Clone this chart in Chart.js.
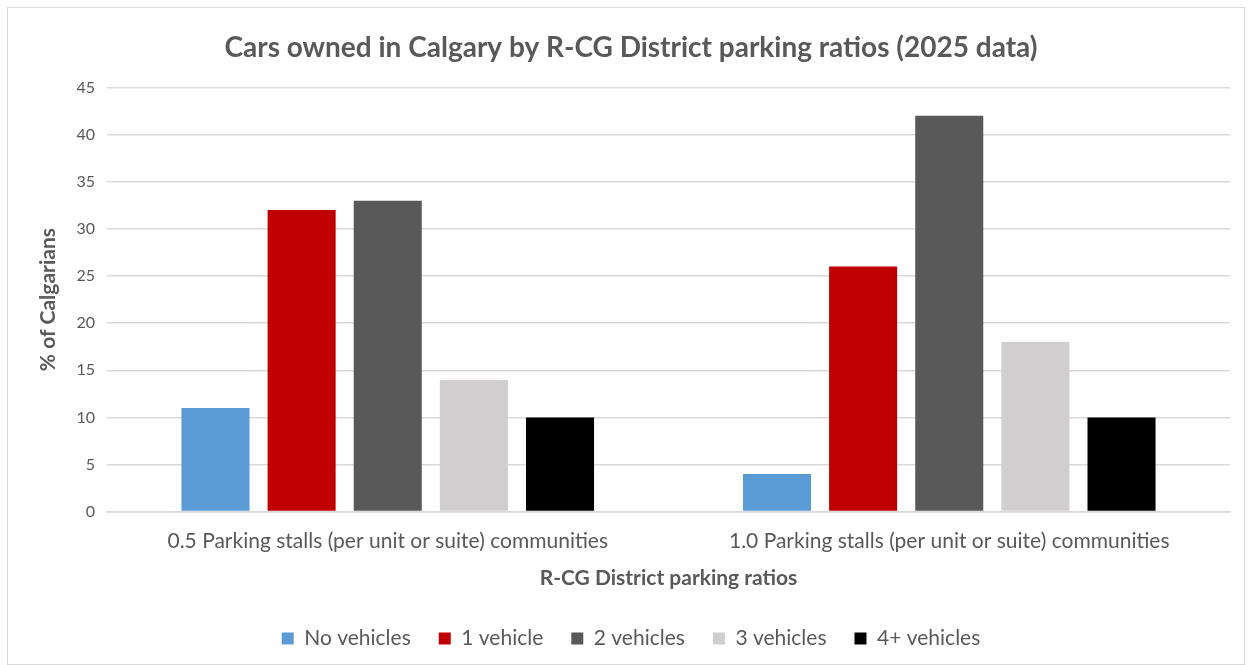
<!DOCTYPE html>
<html>
<head>
<meta charset="utf-8">
<script src="https://cdn.jsdelivr.net/npm/chart.js@4"></script>
<style>
  html, body { margin: 0; padding: 0; background: #ffffff; }
  #frame {
    position: absolute; left: 7px; top: 7px; width: 1236px; height: 656px;
    border: 1px solid #d9d9d9; background: #ffffff;
  }
  #chartBox { position: absolute; left: 0; top: 0; width: 1236px; height: 656px; }
</style>
</head>
<body>
<div id="frame"><div id="chartBox"><canvas id="carsChart"></canvas></div></div>
<script>
// Cars owned in Calgary by R-CG District parking ratios
const categories = [
    '0.5 Parking stalls (per unit or suite) communities',
    '1.0 Parking stalls (per unit or suite) communities'
];
const seriesNames = ['No vehicles', '1 vehicle', '2 vehicles', '3 vehicles', '4+ vehicles'];
const noVehicles = [11, 4];
const oneVehicle = [32, 26];
const twoVehicles = [33, 42];
const threeVehicles = [14, 18];
const fourPlusVehicles = [10, 10];
const seriesColors = ['#5b9bd5', '#c00000', '#595959', '#d0cece', '#000000'];

const textGray = '#595959';
const fontFamily = 'Lato, "Open Sans", sans-serif';

const seriesValues = [noVehicles, oneVehicle, twoVehicles, threeVehicles, fourPlusVehicles];

const ctx = document.getElementById('carsChart');
new Chart(ctx.getContext('2d'), {
    type: 'bar',
    data: {
        labels: categories,
        datasets: seriesNames.map((name, i) => ({
            label: name,
            data: seriesValues[i],
            backgroundColor: seriesColors[i],
            categoryPercentage: 0.767,
            barPercentage: 0.79
        }))
    },
    options: {
        responsive: true,
        maintainAspectRatio: false,
        animation: false,
        layout: { padding: { left: 24, right: 14, top: 10, bottom: 5 } },
        plugins: {
            title: {
                display: true,
                text: 'Cars owned in Calgary by R-CG District parking ratios (2025 data)',
                color: textGray,
                font: { family: fontFamily, size: 28, weight: 'bold' },
                padding: { top: 13, bottom: 23 }
            },
            legend: {
                position: 'bottom',
                labels: {
                    color: textGray,
                    font: { family: fontFamily, size: 21 },
                    boxWidth: 12,
                    boxHeight: 12,
                    padding: 28
                }
            },
            tooltip: { enabled: false }
        },
        scales: {
            y: {
                min: 0,
                max: 45,
                afterFit: (scale) => { scale.width = 75; },
                ticks: {
                    stepSize: 5,
                    color: textGray,
                    font: { family: fontFamily, size: 16 },
                    padding: 12
                },
                grid: { color: '#d9d9d9', lineWidth: 1.5, drawTicks: false },
                border: { display: false },
                title: {
                    display: true,
                    text: '% of Calgarians',
                    color: textGray,
                    font: { family: fontFamily, size: 21, weight: 'bold' }
                }
            },
            x: {
                afterFit: (scale) => { scale.height = scale.height - 13; },
                ticks: {
                    color: textGray,
                    font: { family: fontFamily, size: 21 },
                    padding: 17
                },
                grid: { display: false, drawTicks: false },
                border: { color: '#d9d9d9', width: 1.5 },
                title: {
                    display: true,
                    text: 'R-CG District parking ratios',
                    color: textGray,
                    font: { family: fontFamily, size: 21, weight: 'bold' },
                    padding: { top: 8, bottom: 9 }
                }
            }
        }
    }
});
</script>
</body>
</html>
